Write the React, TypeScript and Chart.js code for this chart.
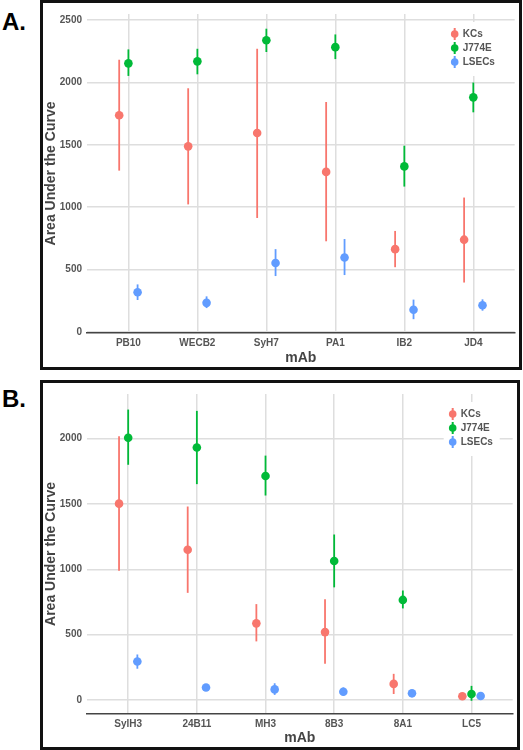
import React, { useEffect, useRef } from "react";
import { Chart, registerables } from "chart.js";

Chart.register(...registerables);

const FONT = "'Liberation Sans', Arial, sans-serif";

// ---------- Panel A data ----------
const categoriesA = ["PB10", "WECB2", "SyH7", "PA1", "IB2", "JD4"];
const kcsA = [1738, 1488, 1595, 1283, 663, 739];
const kcsLowA = [1293, 1022, 913, 726, 518, 395];
const kcsHighA = [2183, 1954, 2271, 1844, 809, 1077];
const j774A = [2154, 2170, 2339, 2284, 1327, 1881];
const j774LowA = [2053, 2066, 2245, 2188, 1165, 1761];
const j774HighA = [2266, 2271, 2432, 2386, 1493, 2000];
const lsecA = [317, 232, 552, 596, 177, 213];
const lsecLowA = [255, 190, 447, 455, 101, 169];
const lsecHighA = [380, 284, 663, 744, 258, 260];
const yTicksA = [0, 500, 1000, 1500, 2000, 2500];

// ---------- Panel B data ----------
const categoriesB = ["SylH3", "24B11", "MH3", "8B3", "8A1", "LC5"];
const kcsB = [1502, 1150, 587, 520, 124, 30];
const kcsLowB = [989, 820, 449, 278, 47, 15];
const kcsHighB = [2017, 1480, 734, 771, 201, 45];
const j774B = [2005, 1931, 1713, 1063, 766, 47];
const j774LowB = [1799, 1651, 1564, 862, 701, -5];
const j774HighB = [2221, 2211, 1869, 1266, 838, 109];
const lsecB = [295, 97, 82, 64, 52, 32];
const lsecLowB = [240, 85, 40, 35, 40, 20];
const lsecHighB = [349, 110, 129, 97, 62, 44];
const yTicksB = [0, 500, 1000, 1500, 2000];

const seriesNames = ["KCs", "J774E", "LSECs"];
const seriesColors = ["#F8766D", "#00BA38", "#619CFF"];
const DODGE = 0.4 / 3;

type Series = { values: number[]; low: number[]; high: number[] };

const errorBarPlugin = {
  id: "errorBars",
  beforeDatasetsDraw(chart: any) {
    const ctx = chart.ctx;
    const yScale = chart.scales.y;
    chart.data.datasets.forEach((ds: any, di: number) => {
      const meta = chart.getDatasetMeta(di);
      ctx.save();
      ctx.strokeStyle = ds.errColor;
      ctx.lineWidth = 1.8;
      meta.data.forEach((el: any, i: number) => {
        const y1 = yScale.getPixelForValue(ds.errLow[i]);
        const y2 = yScale.getPixelForValue(ds.errHigh[i]);
        ctx.beginPath();
        ctx.moveTo(el.x, y1);
        ctx.lineTo(el.x, y2);
        ctx.stroke();
      });
      ctx.restore();
    });
  },
};

const legendPlugin = {
  id: "insideLegend",
  afterDraw(chart: any) {
    const ctx = chart.ctx;
    const area = chart.chartArea;
    const gx = area.right - 60;
    const y0 = area.top + 20;
    ctx.save();
    ctx.fillStyle = "#ffffff";
    ctx.fillRect(area.right - 69, area.top + 8, 56, 54);
    chart.data.datasets.forEach((ds: any, i: number) => {
      const y = y0 + i * 14;
      ctx.strokeStyle = ds.errColor;
      ctx.lineWidth = 2;
      ctx.beginPath();
      ctx.moveTo(gx, y - 6);
      ctx.lineTo(gx, y + 6);
      ctx.stroke();
      ctx.fillStyle = ds.errColor;
      ctx.beginPath();
      ctx.arc(gx, y, 3.8, 0, Math.PI * 2);
      ctx.fill();
      ctx.fillStyle = "#555555";
      ctx.font = `bold 10px ${FONT}`;
      ctx.textBaseline = "middle";
      ctx.textAlign = "left";
      ctx.fillText(ds.label, gx + 8, y + 0.5);
    });
    ctx.restore();
  },
};

function PanelChart(props: {
  categories: string[];
  series: Series[];
  yMin: number;
  yMax: number;
  yTicks: number[];
  width: number;
  height: number;
  padTop: number;
  padRight: number;
  xAxisHeight: number;
}) {
  const ref = useRef<HTMLCanvasElement | null>(null);
  useEffect(() => {
    if (!ref.current) return;
    const { categories, series } = props;
    const datasets = series.map((s, si) => ({
      label: seriesNames[si],
      data: s.values.map((v, i) => ({ x: i + (si - 1) * DODGE, y: v })),
      errLow: s.low,
      errHigh: s.high,
      errColor: seriesColors[si],
      pointRadius: 4.3,
      pointHoverRadius: 4.3,
      pointBackgroundColor: seriesColors[si],
      pointBorderWidth: 0,
      borderColor: seriesColors[si],
      showLine: false,
    }));
    const tickFont = { family: FONT, size: 10, weight: "bold" as const };
    const titleFont = { family: FONT, size: 14, weight: "bold" as const };
    const chart = new Chart(ref.current, {
      type: "scatter",
      data: { datasets: datasets as any },
      options: {
        responsive: false,
        animation: false,
        events: [],
        layout: { padding: { top: props.padTop, right: props.padRight, left: 0, bottom: 0 } },
        plugins: { legend: { display: false }, tooltip: { enabled: false } },
        scales: {
          x: {
            type: "linear",
            min: -0.6,
            max: categories.length - 0.4,
            afterBuildTicks: (s: any) => {
              s.ticks = categories.map((_, i) => ({ value: i }));
            },
            afterFit: (s: any) => {
              s.height = props.xAxisHeight;
            },
            ticks: {
              autoSkip: false,
              maxRotation: 0,
              padding: 4,
              color: "#555555",
              font: tickFont,
              callback: (v: any) => categories[Math.round(Number(v))] ?? "",
            },
            grid: { color: "#dedede", lineWidth: 1.5, drawTicks: false },
            border: { display: true, color: "#444444", width: 1.5 },
            title: {
              display: true,
              text: "mAb",
              color: "#444444",
              font: titleFont,
              padding: { top: 0, bottom: 0.5 },
            },
          },
          y: {
            type: "linear",
            min: props.yMin,
            max: props.yMax,
            afterBuildTicks: (s: any) => {
              s.ticks = props.yTicks.map((v) => ({ value: v }));
            },
            afterFit: (s: any) => {
              s.width = 44;
            },
            ticks: {
              padding: 5,
              color: "#555555",
              font: tickFont,
              callback: (v: any) => String(v),
            },
            grid: { color: "#dedede", lineWidth: 1.5, drawTicks: false },
            border: { display: false },
            title: {
              display: true,
              text: "Area Under the Curve",
              color: "#444444",
              font: titleFont,
              padding: { top: 0, bottom: 0 },
            },
          },
        },
      } as any,
      plugins: [errorBarPlugin, legendPlugin],
    });
    return () => chart.destroy();
  }, []);
  return (
    <canvas
      ref={ref}
      width={props.width}
      height={props.height}
      style={{ display: "block", width: props.width, height: props.height }}
    />
  );
}

const panelLabelStyle: React.CSSProperties = {
  position: "absolute",
  left: 2,
  fontFamily: FONT,
  fontWeight: "bold",
  fontSize: 24,
  lineHeight: "24px",
  color: "#000",
};

export default function App() {
  const seriesA: Series[] = [
    { values: kcsA, low: kcsLowA, high: kcsHighA },
    { values: j774A, low: j774LowA, high: j774HighA },
    { values: lsecA, low: lsecLowA, high: lsecHighA },
  ];
  const seriesB: Series[] = [
    { values: kcsB, low: kcsLowB, high: kcsHighB },
    { values: j774B, low: j774LowB, high: j774HighB },
    { values: lsecB, low: lsecLowB, high: lsecHighB },
  ];
  return (
    <div style={{ position: "absolute", left: 0, top: 0, width: 523, height: 750, background: "#fff" }}>
      <div style={{ ...panelLabelStyle, top: 10 }}>A.</div>
      <div
        style={{
          position: "absolute",
          left: 40,
          top: 0,
          width: 482,
          height: 370,
          border: "3px solid #111",
          boxSizing: "border-box",
          background: "#fff",
        }}
      >
        <PanelChart
          categories={categoriesA}
          series={seriesA}
          yMin={-10}
          yMax={2550}
          yTicks={yTicksA}
          width={476}
          height={364}
          padTop={3}
          padRight={3}
          xAxisHeight={34}
        />
      </div>
      <div style={{ ...panelLabelStyle, top: 387 }}>B.</div>
      <div
        style={{
          position: "absolute",
          left: 40,
          top: 380,
          width: 480,
          height: 370,
          border: "3px solid #111",
          boxSizing: "border-box",
          background: "#fff",
        }}
      >
        <PanelChart
          categories={categoriesB}
          series={seriesB}
          yMin={-106}
          yMax={2340}
          yTicks={yTicksB}
          width={474}
          height={364}
          padTop={2}
          padRight={2}
          xAxisHeight={33}
        />
      </div>
    </div>
  );
}
